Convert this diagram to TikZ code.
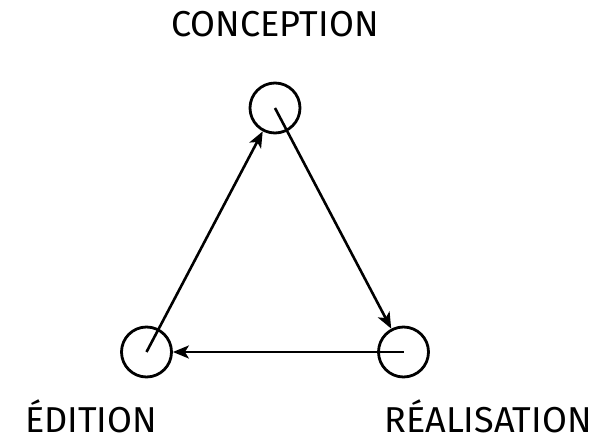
\documentclass[tikz,border=0pt]{standalone}
\usepackage{fontspec}
\setmainfont{Fira Sans}
\usetikzlibrary{arrows.meta, positioning}
\tikzset{
    % Stage circles
    stagecircle/.style={
        circle,
        draw=black,
        line width=2.8pt,
        minimum size=50pt,
        inner sep=0pt
    },
    % Stage labels
    stagelabel/.style={
        anchor=base,
        inner sep=0pt,
        font=\fontsize{36}{43}\selectfont
    },
    % Cycle arrows
    cyclearrow/.style={
        -{Stealth[length=16pt,width=13pt,inset=4pt]},
        line width=2.6pt,
        black
    }
}
\begin{document}
\begin{tikzpicture}[x=1pt,y=1pt]
    \useasboundingbox (0,0) rectangle (613,442);

    % Stages
    \node[stagecircle] (conception) at (275,334) {};
    \node[stagecircle] (realisation) at (403.5,90) {};
    \node[stagecircle] (edition) at (146.5,90) {};

    % Labels
    \node[stagelabel] (conceptionlabel) at (275,405) {CONCEPTION};
    \node[stagelabel] (editionlabel) at (91,10) {ÉDITION};
    \node[stagelabel] (realisationlabel) at (488,10) {RÉALISATION};

    % Cycle
    \draw[cyclearrow] (conception.center) -- (realisation);
    \draw[cyclearrow] (realisation.center) -- (edition);
    \draw[cyclearrow] (edition.center) -- (conception);
\end{tikzpicture}
\end{document}
